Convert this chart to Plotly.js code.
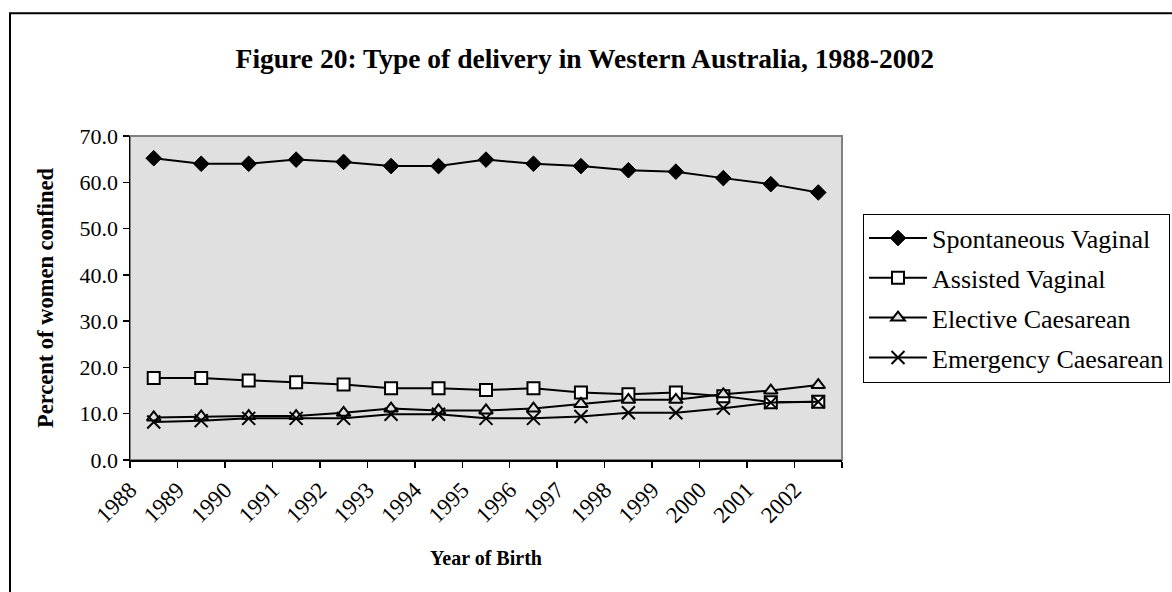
<!DOCTYPE html>
<html>
<head>
<meta charset="utf-8">
<script src="https://cdn.plot.ly/plotly-3.0.1.min.js"></script>
<style>html,body{margin:0;padding:0;background:#fff;}</style>
</head>
<body>
<div id="chart" style="width:1172px;height:592px;"></div>
<script>
const years = [1988,1989,1990,1991,1992,1993,1994,1995,1996,1997,1998,1999,2000,2001,2002];
const yearLabels = ["1988","1989","1990","1991","1992","1993","1994","1995","1996","1997","1998","1999","2000","2001","2002"];
const spontaneous = [65.2,64.0,64.0,64.9,64.4,63.5,63.5,64.9,64.0,63.5,62.6,62.3,60.9,59.6,57.8];
const assisted    = [17.7,17.7,17.2,16.8,16.3,15.5,15.5,15.1,15.5,14.6,14.2,14.6,13.8,12.5,12.6];
const elective    = [9.2,9.4,9.5,9.5,10.2,11.1,10.7,10.7,11.1,12.1,13.0,13.0,14.2,15.0,16.2];
const emergency   = [8.2,8.5,9.0,9.0,9.0,9.9,9.9,9.0,9.0,9.4,10.2,10.2,11.2,12.4,12.6];
const seriesNames = ["Spontaneous Vaginal","Assisted Vaginal","Elective Caesarean","Emergency Caesarean"];
const yTicks = [0,10,20,30,40,50,60,70];

const serif = "Liberation Serif";
const lineStyle = {color:"#000", width:2};

// category boundaries: tick marks and label anchors sit on them (Excel style)
const first = years[0], last = years[years.length-1];
const xTickVals = years.map(y => y - 0.5).concat([last + 0.5]);
const xTickText = yearLabels.concat([""]);

const traces = [
  {x:years, y:spontaneous, name:seriesNames[0], legendgroup:"a", mode:"lines+markers", line:lineStyle,
   marker:{symbol:"diamond", size:12, color:"#000", line:{color:"#000", width:1}}},
  {x:years, y:assisted, name:seriesNames[1], legendgroup:"b", mode:"lines+markers", line:lineStyle,
   marker:{symbol:"square", size:12, color:"#fff", line:{color:"#000", width:2}}},
  {x:years, y:elective, name:seriesNames[2], legendgroup:"c", mode:"lines+markers", line:lineStyle,
   marker:{symbol:"triangle-up", size:12, color:"#e0e0e0", line:{color:"#000", width:2}}},
  {x:years, y:emergency, name:seriesNames[3], legendgroup:"d", mode:"lines+markers", line:lineStyle,
   marker:{symbol:"x-thin-open", size:13, color:"#000", line:{color:"#000", width:2}}}
];

const layout = {
  width:1172, height:592,
  margin:{l:130, r:330, t:136, b:132, pad:0, autoexpand:false},
  paper_bgcolor:"#fff",
  plot_bgcolor:"#e0e0e0",
  font:{family:serif, color:"#000"},
  showlegend:true,
  title:{text:"<b>Figure 20: Type of delivery in Western Australia, 1988-2002</b>",
    font:{family:serif, size:27.5, color:"#000"},
    x:0.499, xref:"container", xanchor:"center", y:1-58/592, yref:"container", yanchor:"middle"},
  xaxis:{type:"linear", range:[first-0.5, last+0.5], tickmode:"array", tickvals:xTickVals, ticktext:xTickText,
    ticks:"outside", ticklen:6, tickwidth:1.5, tickcolor:"#000",
    showline:true, linecolor:"#000", linewidth:1.5, showgrid:false, zeroline:false,
    tickangle:-45, ticklabelstandoff:0,
    tickfont:{family:serif, size:23, color:"#000"},
    title:{text:"<b>Year of Birth</b>", font:{family:serif, size:20, color:"#000"}, standoff:24},
    fixedrange:true},
  yaxis:{range:[0,70], tickvals:yTicks, tickformat:".1f", ticks:"outside", ticklen:6, tickwidth:1.5, tickcolor:"#000",
    showline:true, linecolor:"#000", linewidth:1.5, showgrid:false, zeroline:false,
    tickfont:{family:serif, size:22, color:"#000"},
    title:{text:"<b>Percent of women confined</b>", font:{family:serif, size:22.5, color:"#000"}, standoff:19},
    fixedrange:true},
  legend:{x:(863-130)/712, y:(460-214)/323.5, xanchor:"left", yanchor:"top",
    bgcolor:"#fff", bordercolor:"#000", borderwidth:1,
    font:{family:serif, size:26, color:"#000"},
    traceorder:"grouped", tracegroupgap:3, itemwidth:58},
  shapes:[
    {type:"rect", xref:"paper", yref:"paper", x0:0, x1:1, y0:0, y1:1,
     line:{color:"#808080", width:2}, fillcolor:"rgba(0,0,0,0)", layer:"below"},
    {type:"rect", xref:"paper", yref:"paper", x0:(10-130)/712, x1:1.7, y0:-0.7, y1:(460-14)/323.5,
     line:{color:"#000", width:2}, fillcolor:"rgba(0,0,0,0)", layer:"above"}
  ]
};

Plotly.newPlot("chart", traces, layout, {staticPlot:true, displayModeBar:false});
</script>
</body>
</html>
